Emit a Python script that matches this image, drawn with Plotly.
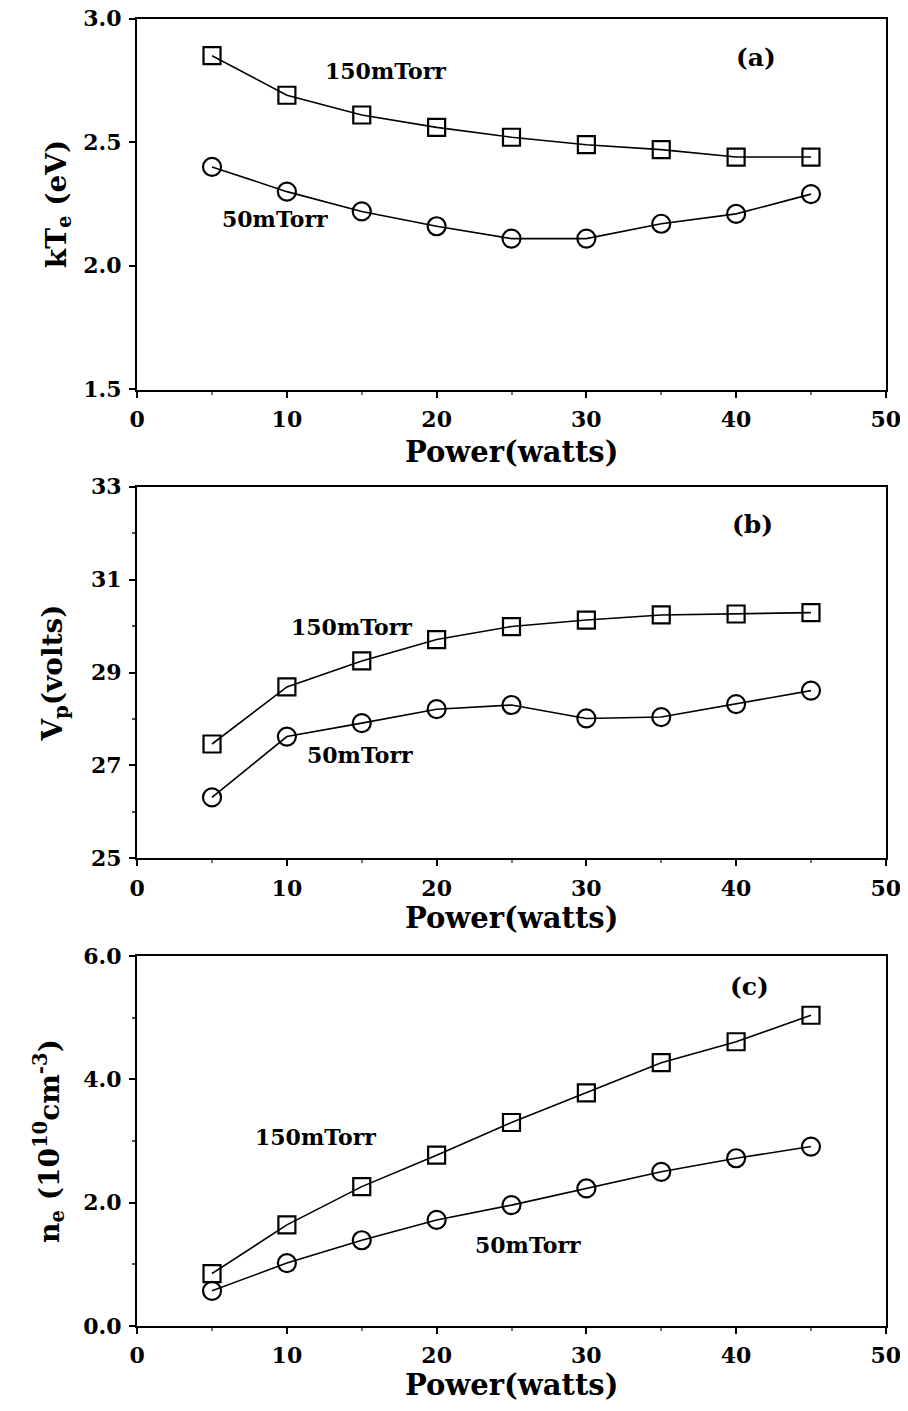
import plotly.graph_objects as go

power = [5, 10, 15, 20, 25, 30, 35, 40, 45]

kte_150 = [2.85, 2.69, 2.61, 2.56, 2.52, 2.49, 2.47, 2.44, 2.44]
kte_50 = [2.40, 2.30, 2.22, 2.16, 2.11, 2.11, 2.17, 2.21, 2.29]

vp_150 = [27.46, 28.69, 29.25, 29.71, 29.99, 30.13, 30.24, 30.26, 30.29]
vp_50 = [26.31, 27.62, 27.91, 28.21, 28.30, 28.01, 28.04, 28.32, 28.61]

ne_150 = [0.85, 1.64, 2.26, 2.77, 3.30, 3.78, 4.27, 4.61, 5.04]
ne_50 = [0.57, 1.02, 1.39, 1.72, 1.96, 2.23, 2.50, 2.72, 2.91]

kte_ticks = [1.5, 2.0, 2.5, 3.0]
vp_ticks = [25, 27, 29, 31, 33]
ne_ticks = [0.0, 2.0, 4.0, 6.0]
power_ticks = [0, 10, 20, 30, 40, 50]

series = [(kte_150, kte_50), (vp_150, vp_50), (ne_150, ne_50)]
yticks = [kte_ticks, vp_ticks, ne_ticks]

FONT = "DejaVu Serif"
OFF = 8  # page body margin of the html page
W, H = 900, 1395

fig = go.Figure()

x0, x1 = (137 - OFF) / W, (886 - OFF) / W
ydoms = [(18.5, 389.5), (486.7, 858.3), (956, 1326)]
eps = [0.0005, 0.002, 0.001]
yformats = [".1f", "d", ".1f"]
yminor = [None, 1, 1.0]
ytitles = ["kT<sub>e</sub> (eV)", "V<sub>p</sub>(volts)",
           "n<sub>e</sub> (10<sup>10</sup>cm<sup>-3</sup>)"]
ytitle_standoff = [9, 20, 16]
xtitle_shift = [-62, -60, -59]
panel_labels = ["(a)", "(b)", "(c)"]
label_pos = [(41.3, 2.844), (41.1, 32.18), (40.9, 5.50)]
t150_pos = [(16.6, 2.79), (14.3, 29.99), (11.9, 3.07)]
t50_pos = [(9.2, 2.19), (14.9, 27.22), (26.1, 1.31)]

for i, (s150, s50) in enumerate(series):
    n = "" if i == 0 else str(i + 1)
    xa, ya = "x" + n, "y" + n
    fig.add_trace(go.Scatter(
        x=power, y=s150, xaxis=xa, yaxis=ya, mode="lines+markers",
        line=dict(color="black", width=1.6),
        marker=dict(symbol="square-open", size=17, color="black",
                    line=dict(width=2.2, color="black")),
        showlegend=False, cliponaxis=False))
    fig.add_trace(go.Scatter(
        x=power, y=s50, xaxis=xa, yaxis=ya, mode="lines+markers",
        line=dict(color="black", width=1.6),
        marker=dict(symbol="circle-open", size=18, color="black",
                    line=dict(width=2.2, color="black")),
        showlegend=False, cliponaxis=False))

    top, bot = ydoms[i]
    dom = [1 - (bot - OFF) / H, 1 - (top - OFF) / H]
    xkey = "xaxis" + n
    ykey = "yaxis" + n
    tv = yticks[i]
    minor_y = dict(ticks="outside", ticklen=3, tickwidth=1.5, tickcolor="#555",
                   dtick=yminor[i], tick0=tv[0]) if yminor[i] else None
    fig.update_layout(**{
        xkey: dict(
            domain=[x0, x1], anchor=ya, range=[-0.01, 50.01],
            tickmode="array", tickvals=power_ticks,
            ticktext=[str(v) for v in power_ticks],
            automargin=False, ticklabeloverflow="allow",
            showgrid=False, zeroline=False, showline=True, linecolor="black",
            linewidth=2, mirror=True, ticks="outside", ticklen=6, tickwidth=2,
            tickcolor="black",
            minor=dict(ticks="outside", ticklen=3, tickwidth=1.5,
                       tickcolor="#777", dtick=5, tick0=0),
            tickfont=dict(family=FONT, size=22, color="black", weight="bold"),
            ticklabelstandoff=3,
        ),
        ykey: dict(
            domain=dom, anchor=xa, range=[tv[0] - eps[i], tv[-1] + eps[i]],
            tickmode="array", tickvals=tv,
            ticktext=[format(v, yformats[i]) for v in tv],
            automargin=False, ticklabeloverflow="allow",
            showgrid=False, zeroline=False, showline=True, linecolor="black",
            linewidth=2, mirror=True, ticks="outside", ticklen=6, tickwidth=2,
            tickcolor="black",
            minor=minor_y,
            tickfont=dict(family=FONT, size=22, color="black", weight="bold"),
            ticklabelstandoff=3,
            title=dict(text=ytitles[i],
                       font=dict(family=FONT, size=28, color="black", weight="bold"),
                       standoff=ytitle_standoff[i]),
        ),
    })

    # x-axis title placed as an annotation below each panel
    fig.add_annotation(x=0.5, y=0, xref=xa + " domain", yref=ya + " domain",
                       yanchor="middle", yshift=xtitle_shift[i],
                       text="Power(watts)", showarrow=False,
                       font=dict(family=FONT, size=29, color="black", weight="bold"))

    ann_font = dict(family=FONT, size=22, color="black", weight="bold")
    fig.add_annotation(x=label_pos[i][0], y=label_pos[i][1], xref=xa, yref=ya,
                       text=panel_labels[i], showarrow=False,
                       font=dict(family=FONT, size=25, color="black", weight="bold"))
    fig.add_annotation(x=t150_pos[i][0], y=t150_pos[i][1], xref=xa, yref=ya,
                       text="150mTorr", showarrow=False, font=ann_font)
    fig.add_annotation(x=t50_pos[i][0], y=t50_pos[i][1], xref=xa, yref=ya,
                       text="50mTorr", showarrow=False, font=ann_font)

fig.update_layout(
    width=W, height=H, margin=dict(l=0, r=0, t=0, b=0),
    paper_bgcolor="white", plot_bgcolor="white",
)

fig.write_html("out.html")
